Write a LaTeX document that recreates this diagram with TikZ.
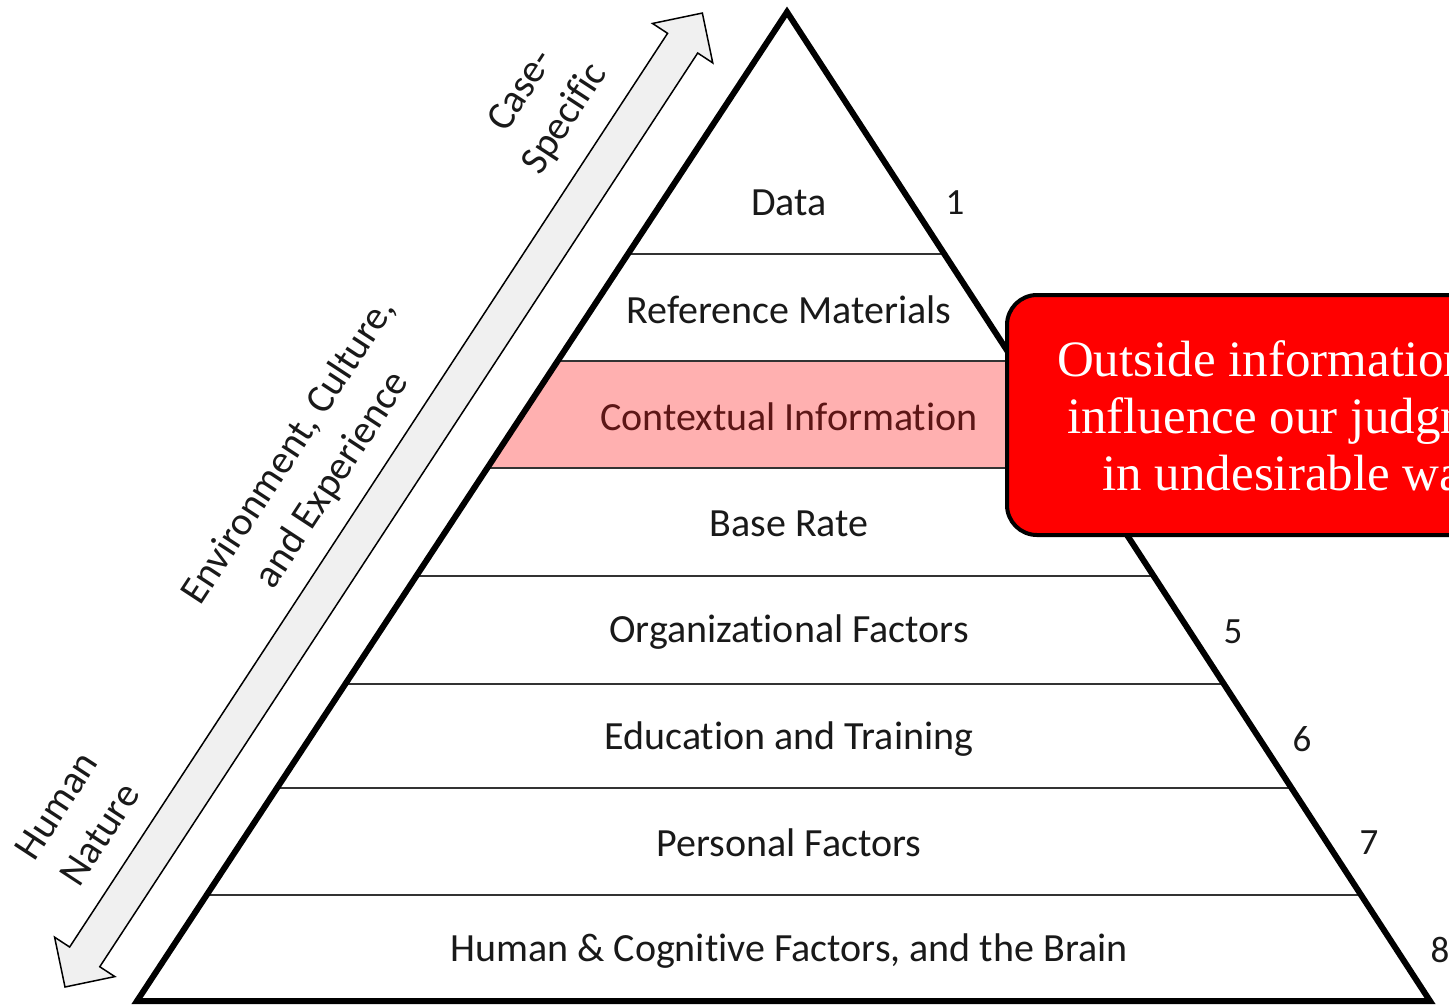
\documentclass[tikz,border=0pt]{standalone}
\usepackage{fontspec}
\setmainfont{Carlito}[Ligatures=NoCommon]
\newfontfamily\calloutfont{Liberation Serif}
\usetikzlibrary{calc}
\definecolor{ctxpink}{RGB}{255,176,176}
\definecolor{ctxdark}{RGB}{92,22,22}
\definecolor{arrowgray}{RGB}{240,240,240}

\begin{document}
\begin{tikzpicture}[x=1pt,y=-1pt,
  layer/.style={font=\fontsize{40}{46}\selectfont, text=black!90},
  levelnum/.style={font=\fontsize{37}{42}\selectfont, text=black!90},
  sidelabel/.style={font=\fontsize{40}{52}\selectfont, align=center, rotate=56.8, text=black!90},
  callout/.style={draw=black, line width=4pt, fill=red, rounded corners=30pt, text=white,
    align=center, minimum width=596pt, minimum height=240pt,
    font=\calloutfont\fontsize{51}{57}\selectfont}]
 \useasboundingbox (0,0) rectangle (1449,1005);
 \clip (0,0) rectangle (1449,1005);

 \coordinate (apex) at (787,12);
 \coordinate (bl) at (137,1001);
 \coordinate (br) at (1430,1001);

 \path[fill=ctxpink, draw=ctxdark, line width=1.5pt]
  ($(apex)!{349/989}!(bl)$) -- ($(apex)!{349/989}!(br)$) --
  ($(apex)!{456/989}!(br)$) -- ($(apex)!{456/989}!(bl)$) -- cycle;

 \foreach \y in {254,361,468,576,684,788,895}
  \draw[line width=2pt, black!80] ($(apex)!{(\y-12)/989}!(bl)$) -- ($(apex)!{(\y-12)/989}!(br)$);

 \draw[line width=6pt, line join=miter] (apex) -- (bl) -- (br) -- cycle;

 \node[layer] (data) at (789,203) {Data};
 \node[layer] (refmat) at (789,310) {Reference Materials};
 \node[layer, text=ctxdark] (context) at (789,417) {Contextual Information};
 \node[layer] (baserate) at (789,524) {Base Rate};
 \node[layer] (orgfact) at (789,632) {Organizational Factors};
 \node[layer] (edutrain) at (789,739) {Education and Training};
 \node[layer] (persfact) at (789,843) {Personal Factors};
 \node[layer] (cogfact) at (789,951) {Human \& Cognitive Factors, and the Brain};

 \foreach \n/\x/\y in {1/955/203, 2/1024/310, 3/1093/417, 4/1163/524, 5/1233/632, 6/1302/739, 7/1369/843, 8/1440/950}
  \node[levelnum] (num\n) at (\x,\y) {\n};

 \begin{scope}[shift={(65,987)}, rotate=56.8]
  \draw[fill=arrowgray, line width=1.5pt, line join=miter]
   (0,0) -- (36,36) -- (36,18) -- (1128,18) -- (1128,36) -- (1164,0)
   -- (1128,-36) -- (1128,-18) -- (36,-18) -- (36,-36) -- cycle;
 \end{scope}

 \node[sidelabel] (casespec) at (544,105) {Case-\\Specific};
 \node[sidelabel] (envcult) at (311,466) {Environment, Culture,\\and Experience};
 \node[sidelabel] (humnat) at (78,820) {Human\\Nature};

 \node[callout] (note) at (1305,415) {Outside information can\rule{0pt}{47pt}\\influence our judgment\\in undesirable ways};
\end{tikzpicture}
\end{document}
